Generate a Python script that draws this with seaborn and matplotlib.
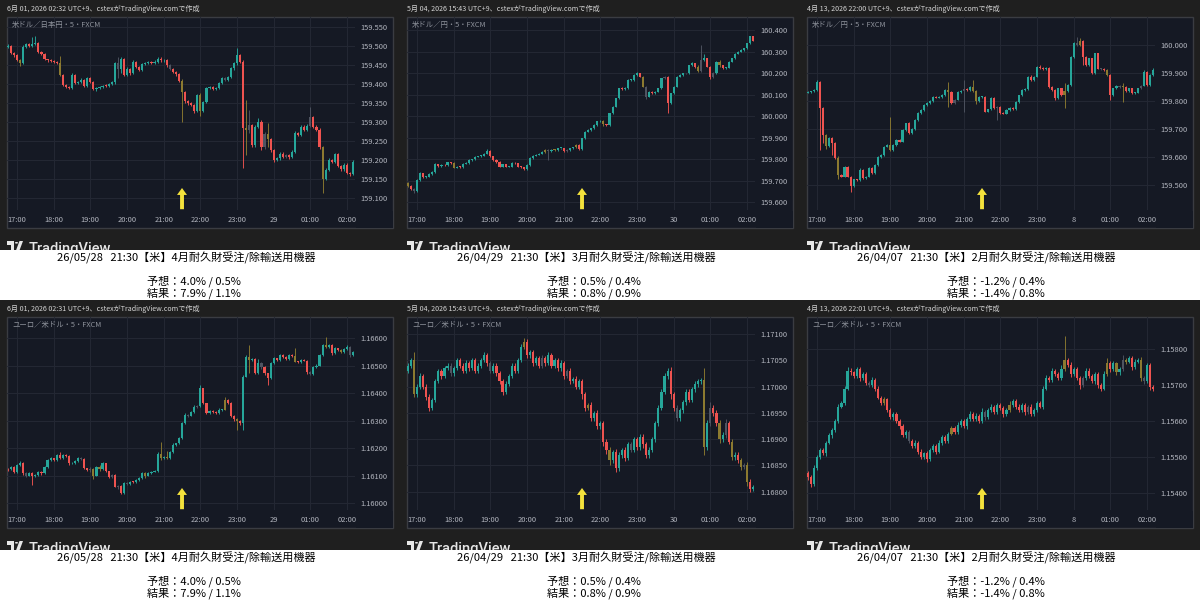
import numpy as np
import matplotlib
matplotlib.use("Agg")
import matplotlib.pyplot as plt
import seaborn as sns
from matplotlib.patches import Rectangle, Polygon, Circle

sns.set_theme(style="dark")
plt.rcParams["font.family"] = ["Noto Sans CJK JP", "DejaVu Sans"]

# ---------------- data ----------------
HEADERS = [
    "6月 01, 2026 02:32 UTC+9、cstexがTradingView.comで作成",
    "5月 04, 2026 15:43 UTC+9、cstexがTradingView.comで作成",
    "4月 13, 2026 22:00 UTC+9、cstexがTradingView.comで作成",
    "6月 01, 2026 02:31 UTC+9、cstexがTradingView.comで作成",
    "5月 04, 2026 15:43 UTC+9、cstexがTradingView.comで作成",
    "4月 13, 2026 22:01 UTC+9、cstexがTradingView.comで作成",
]
SYMBOLS = ["米ドル／日本円・5・FXCM", "米ドル／円・5・FXCM", "米ドル／円・5・FXCM",
           "ユーロ／米ドル・5・FXCM", "ユーロ／米ドル・5・FXCM", "ユーロ／米ドル・5・FXCM"]
DAY_LABELS = ["29", "30", "8"]
HOUR_LABELS = ["17:00", "18:00", "19:00", "20:00", "21:00", "22:00", "23:00", None, "01:00", "02:00"]
EVENTS = ["26/05/28   21:30【米】4月耐久財受注/除輸送用機器",
          "26/04/29   21:30【米】3月耐久財受注/除輸送用機器",
          "26/04/07   21:30【米】2月耐久財受注/除輸送用機器"]
FORECASTS = ["予想：4.0% / 0.5%", "予想：0.5% / 0.4%", "予想：-1.2% / 0.4%"]
RESULTS = ["結果：7.9% / 1.1%", "結果：0.8% / 0.9%", "結果：-1.4% / 0.8%"]
EVENT_HOUR = 4.5  # 21:30, hours after 17:00

# price = BASE + value * UNIT
BASES = [159.0, 159.0, 159.0, 1.16, 1.16, 1.15]
UNITS = [0.001, 0.001, 0.001, 0.00001, 0.00001, 0.00001]
FIRST_OPEN = [497, 690, 830, 125, 1030, 455]

C1 = [500,481,476,463,455,498,505,500,506,507, 485,478,465,462,460,458,455,424,397,392,
      390,424,402,405,410,396,415,405,386,390, 392,396,395,400,404,454,440,466,424,440,
      428,458,445,437,452,456,458,455,459,467, 462,463,449,440,432,425,408,378,355,350,
      345,328,370,330,352,389,392,386,390,402, 415,410,418,441,454,476,459,283,280,292,
      239,288,301,235,268,255,226,200,204,217, 208,212,207,222,270,266,288,280,290,314,
      288,278,235,150,174,200,195,215,184,175, 188,165,163,196]
UW1 = [4,3,3,2,3,5,4,3,18,19, 3,2,3,2,3,2,3,19,3,2, 3,4,3,3,5,3,4,3,2,3, 3,2,3,3,4,3,17,4,3,5,
       3,4,3,3,4,3,3,2,4,5, 3,3,2,4,3,3,4,5,3,2, 3,3,4,5,3,4,3,3,3,4, 3,4,3,4,5,18,3,5,75,39,
       3,4,9,3,6,30,3,4,3,4, 3,3,3,4,6,4,4,3,4,26, 3,3,6,3,4,4,3,4,3,3, 3,3,3,5]
LW1 = [3,3,4,3,8,3,3,3,2,3, 3,3,3,4,3,3,3,4,3,3, 4,3,3,3,3,4,3,3,3,4, 3,3,3,3,3,3,25,10,4,3,
       4,3,3,3,3,3,3,3,3,3, 3,3,3,4,3,3,4,77,5,4, 3,5,3,15,4,3,3,3,3,3, 3,3,3,3,3,3,4,105,67,8,
       4,5,4,10,5,20,4,6,3,5, 4,4,4,3,3,4,3,4,3,3, 3,3,5,38,3,3,4,3,3,4, 3,3,5,3]

C2 = [675,660,650,703,734,715,718,730,740,775, 768,772,770,785,780,760,765,762,778,782,
      795,798,810,813,815,825,838,812,795,785, 765,775,765,765,782,780,765,762,752,772,
      805,815,820,825,833,842,835,842,842,850, 850,835,842,850,855,865,845,896,927,935,
      943,958,975,978,962,958,1012,1043,1082,1128, 1125,1130,1168,1168,1190,1198,1183,1137,1090,1113,
      1105,1113,1128,1175,1180,1060,1105,1137,1183,1190, 1198,1198,1235,1245,1230,1210,1260,1268,1230,1183,
      1200,1253,1235,1222,1225,1253,1268,1290,1300,1307, 1315,1338,1370,1350]
UW2 = [5,4,3,4,6,3,3,3,3,8, 3,3,3,3,3,4,3,3,3,3, 3,3,3,3,3,3,7,3,3,3, 4,3,3,3,3,3,3,3,3,3,
       4,4,3,3,3,3,3,3,5,3, 3,3,3,3,3,6,3,3,3,4, 3,3,3,3,3,3,3,3,3,3, 5,3,3,3,5,9,3,3,3,3,
       4,3,3,3,8,5,3,3,3,4, 3,4,3,5,3,8,70,22,3,3, 3,3,6,3,3,3,3,3,3,3, 3,3,3,4]
LW2 = [5,5,8,3,3,3,4,3,3,3, 3,3,3,3,3,3,3,3,3,3, 3,3,3,3,3,3,3,3,3,3, 3,3,3,3,3,3,3,3,3,3,
       3,3,3,3,3,3,40,3,5,3, 3,3,3,3,3,3,3,3,3,3, 3,3,3,3,8,5,3,3,3,3, 3,3,3,3,3,3,3,3,12,3,
       3,3,3,3,3,48,3,3,3,3, 3,3,3,3,5,6,3,3,3,10, 8,3,5,3,3,3,3,3,3,3, 3,3,3,3]

C3 = [832,834,840,868,774,680,640,667,650,595, 535,530,565,530,495,520,518,555,525,530,
      560,542,572,601,607,637,643,625,643,660, 655,697,720,685,700,732,756,768,786,794,
      800,815,812,815,822,840,832,792,805,833, 835,843,840,850,834,800,815,815,762,770,
      810,775,780,757,755,768,775,772,797,820, 840,842,887,875,887,922,918,915,917,851,
      840,810,845,822,835,858,958,1006,1000,1015, 958,928,952,900,970,916,915,910,893,822,
      845,855,850,850,836,845,828,830,845,855, 905,857,893,910]
UW3 = [4,3,3,6,3,5,3,4,3,3, 10,3,4,3,3,3,3,4,3,3, 3,3,3,3,3,3,3,100,3,3, 3,3,3,4,3,3,3,3,3,3,
       3,3,4,3,3,3,29,3,3,3, 3,32,3,3,25,5,3,3,3,3, 3,3,3,3,3,3,3,3,3,3, 3,3,3,5,3,3,6,4,3,3,
       3,3,3,3,28,3,3,3,24,10, 3,3,3,3,3,3,3,3,3,3, 3,3,3,13,3,3,3,3,3,3, 4,3,3,8]
LW3 = [3,3,3,3,149,30,12,3,43,3, 15,3,3,3,19,3,3,3,3,3, 3,3,3,3,3,3,3,3,3,3, 3,3,3,3,3,3,3,3,3,3,
       3,3,3,3,3,3,52,3,3,3, 3,73,3,3,3,10,3,3,3,3, 3,3,43,3,3,3,3,3,3,3, 3,3,3,3,3,3,3,3,3,3,
       3,6,3,3,48,3,3,3,3,3, 30,3,3,3,3,3,3,3,3,18, 3,3,3,52,3,3,3,3,3,3, 3,3,3,3]

C4 = [122,130,113,138,145,108,100,108,97,102, 114,108,132,156,162,155,174,162,174,172,
      144,145,152,162,160,126,120,125,100,132, 122,144,115,96,102,60,62,35,72,70,
      78,77,83,90,108,100,108,114,117,180, 162,168,163,186,211,217,235,290,320,318,
      332,350,352,417,362,326,335,332,326,338, 340,374,365,315,305,300,290,460,532,520,
      522,471,508,495,471,453,508,526,520,538, 530,522,538,535,514,513,520,518,478,470,
      495,500,538,574,568,575,544,562,555,550, 560,568,540,548]
UW4 = [4,3,3,4,6,3,3,3,3,3, 3,3,4,5,5,3,6,13,4,3, 3,3,4,4,4,3,3,6,3,4, 6,4,3,3,3,3,5,3,4,3,
       3,3,4,3,4,3,3,3,3,4, 43,3,20,4,6,3,5,6,8,3, 4,5,3,12,3,3,4,3,4,6, 3,10,3,3,4,3,3,5,5,42,
       4,5,15,3,3,3,4,4,3,3, 4,3,4,3,30,3,4,3,3,3, 3,4,3,6,30,4,3,4,3,6, 3,5,3,4]
LW4 = [4,3,4,3,3,5,6,3,32,3, 3,5,3,3,3,4,3,3,3,3, 4,3,3,3,3,4,3,6,12,3, 4,3,3,4,5,3,8,4,3,4,
       3,3,3,3,3,8,3,3,3,3, 4,3,3,3,3,3,3,3,3,5, 3,3,3,3,3,4,3,3,3,3, 3,3,4,3,6,35,6,25,3,49,
       3,3,3,8,4,24,3,3,3,4, 3,3,3,3,3,4,3,3,8,5, 3,3,3,3,3,3,4,3,3,5, 3,3,8,5]

C5 = [1040,1050,985,1000,1020,1000,980,960,975,1010, 1030,1020,1035,1040,1025,1035,1050,1040,1030,1045,
      1035,1050,1030,1040,1050,1060,1045,1030,1040,1025, 1010,990,1005,1020,1040,1030,1050,1075,1085,1060,
      1065,1045,1055,1040,1055,1045,1060,1040,1050,1035, 1045,1020,1030,1010,1015,1000,1010,985,960,965,
      940,950,925,930,895,880,860,875,845,870, 880,865,890,880,900,885,905,890,870,880,
      900,930,960,990,1020,1030,985,960,940,955, 970,990,975,995,1005,1010,1012,885,931,960,
      950,931,900,908,930,895,866,870,860,848, 850,819,805,809]
UW5 = [5,4,15,4,5,4,4,5,4,5, 4,4,5,4,4,4,5,4,4,5, 4,5,4,4,5,5,4,4,5,4, 4,4,5,4,5,4,5,6,7,5,
       4,5,4,4,5,4,5,4,4,4, 5,4,4,5,4,5,4,5,5,4, 5,4,5,4,5,5,6,4,6,5, 4,5,4,5,4,5,4,5,4,5,
       5,5,5,5,6,6,8,5,5,5, 5,5,5,5,5,5,5,23,5,10, 5,5,6,5,8,5,5,5,5,5, 5,6,5,4]
LW5 = [5,4,5,5,4,5,5,6,5,4, 4,5,4,4,5,4,4,5,4,4, 5,4,5,4,4,4,5,4,4,5, 5,6,4,4,4,5,4,4,4,6,
       5,5,4,5,4,5,4,5,4,5, 5,5,4,5,4,5,4,8,6,5, 6,5,6,5,8,8,10,5,8,5, 5,6,5,5,5,5,5,6,5,5,
       5,5,5,5,5,5,8,6,5,5, 5,5,5,5,5,5,5,15,6,5, 5,5,8,5,5,5,5,5,5,6, 5,8,5,4]

C6 = [445,425,470,500,520,510,540,560,575,600, 640,650,690,740,735,725,745,720,730,705,
      700,715,690,665,650,660,630,610,620,600, 585,560,570,545,530,540,515,500,510,495,
      520,530,515,540,555,545,565,580,570,590, 600,585,605,620,605,615,600,625,610,630,
      640,625,645,635,620,630,645,655,640,630, 645,625,640,620,630,650,640,690,720,715,
      740,730,720,745,770,755,730,745,720,700, 720,740,725,710,730,700,690,730,762,745,
      760,735,745,770,765,775,750,765,770,720, 710,755,695,690]
UW6 = [6,5,8,6,5,6,5,6,5,6, 6,5,6,10,6,5,6,5,6,5, 5,6,5,6,5,6,5,6,5,6, 5,6,5,6,5,6,5,6,5,6,
       5,6,5,6,5,6,5,6,5,6, 6,5,6,8,5,6,5,12,5,6, 6,5,6,5,6,5,10,6,5,6, 5,6,5,6,5,6,5,6,8,6,
       6,5,6,10,66,6,8,6,5,6, 6,8,6,5,6,5,6,8,12,6, 8,5,6,12,6,6,5,6,6,8, 6,5,6,5]
LW6 = [10,8,6,5,6,5,6,5,6,5, 6,5,6,5,6,5,6,8,6,5, 6,5,6,5,6,5,6,5,6,5, 6,5,6,5,6,5,8,6,5,8,
       6,5,6,5,6,5,6,5,6,5, 6,5,6,5,6,5,6,5,6,5, 6,5,6,5,8,5,6,5,6,5, 6,8,5,6,5,6,5,6,5,6,
       6,5,6,5,6,5,8,6,5,10, 6,5,6,5,6,8,6,5,6,8, 6,8,6,5,6,5,8,6,5,8, 6,5,8,6]

CLOSES = [C1, C2, C3, C4, C5, C6]
UPPER_WICKS = [UW1, UW2, UW3, UW4, UW5, UW6]
LOWER_WICKS = [LW1, LW2, LW3, LW4, LW5, LW6]

# candles that the reference shows in muted gray / olive-gold
GRAY_BARS = [[36, 53, 71, 79, 84, 91, 99],
             [2, 46, 52, 78, 84, 91, 96, 100],
             [48, 51, 62, 88, 96, 102, 109],
             [6, 24, 27, 34, 36, 39, 59, 62, 83, 99, 112],
             [14, 27, 44, 52, 73, 88, 99, 104, 110],
             [20, 33, 58, 72, 90, 103, 110]]
GOLD_BARS = [[4, 17, 57, 63, 78, 85, 103],
             [0, 15, 45, 48, 55, 64, 77, 95, 102],
             [6, 10, 27, 46, 54, 55, 84, 89, 98, 103],
             [28, 30, 45, 50, 52, 71, 75, 79, 94, 104, 109],
             [2, 38, 59, 66, 97, 102, 106, 109, 111],
             [25, 47, 66, 84, 98, 101, 104, 109]]

PRICE_TICKS = [
    [159.10, 159.15, 159.20, 159.25, 159.30, 159.35, 159.40, 159.45, 159.50, 159.55],
    [159.6, 159.7, 159.8, 159.9, 160.0, 160.1, 160.2, 160.3, 160.4],
    [159.5, 159.6, 159.7, 159.8, 159.9, 160.0],
    [1.160, 1.161, 1.162, 1.163, 1.164, 1.165, 1.166],
    [1.1680, 1.1685, 1.1690, 1.1695, 1.1700, 1.1705, 1.1710],
    [1.154, 1.155, 1.156, 1.157, 1.158],
]
DECIMALS = [3, 3, 3, 5, 5, 5]
YLIMS = [(159.0684, 159.5763), (159.5628, 160.4605), (159.4107, 160.1000),
         (1.159746, 1.166764), (1.167654, 1.171323), (1.153528, 1.158889)]

# ---------------- style ----------------
W, H = 1200, 600
OUTER = "#1f1f1f"
CHART_BG = "#151924"
FRAME = "#3a3c42"
GRID = "#232733"
UP, DN = "#26a69a", "#ef5350"
GRAY_C, GOLD_C = "#4f5461", "#8c7a30"
TXT = "#b2b5be"
ARROW = "#f4e23c"

fig = plt.figure(figsize=(12, 6), dpi=100, facecolor="white")


def fx(x):
    return x / W


def fy(y):
    return 1 - y / H


def rect(x0, y0, x1, y1, **kw):
    fig.add_artist(Rectangle((fx(x0), fy(y1)), (x1 - x0) / W, (y1 - y0) / H,
                             transform=fig.transFigure, **kw))


x_left, x_right = (7 - 17) / 36.67, (355 - 17) / 36.67

for k in range(6):
    r, c = divmod(k, 3)
    ox, oy = 400 * c, 300 * r

    rect(ox, oy, ox + 400, oy + 250, facecolor=OUTER, edgecolor="none", zorder=-3)
    rect(ox + 7, oy + 17, ox + 393, oy + 228, facecolor=CHART_BG, edgecolor=FRAME,
         linewidth=1, zorder=-2)

    ax = fig.add_axes([fx(ox + 7), fy(oy + 210), 348 / W, 193 / H])
    ax.set_facecolor("none")
    for s in ax.spines.values():
        s.set_visible(False)

    closes = np.asarray(CLOSES[k], float)
    opens = np.r_[FIRST_OPEN[k], closes[:-1]]
    base, unit = BASES[k], UNITS[k]
    cl = base + closes * unit
    op = base + opens * unit
    hi = np.maximum(op, cl) + np.asarray(UPPER_WICKS[k]) * unit
    lo = np.minimum(op, cl) - np.asarray(LOWER_WICKS[k]) * unit
    xs = (np.arange(len(closes)) * 5 - 15) / 60.0
    cols = np.where(cl >= op, UP, DN).astype(object)
    cols[GRAY_BARS[k]] = GRAY_C
    cols[GOLD_BARS[k]] = GOLD_C

    y0, y1 = YLIMS[k]
    ax.set_xlim(x_left, x_right)
    ax.set_ylim(y0, y1)

    # grid
    for h in range(10):
        ax.axvline(h, color=GRID, lw=0.8, zorder=0)
    for t in PRICE_TICKS[k]:
        ax.axhline(t, color=GRID, lw=0.8, zorder=0)

    ax.vlines(xs, lo, hi, colors=list(cols), lw=0.65, zorder=2)
    minh = (y1 - y0) / 193 * 0.8
    ax.bar(xs, np.maximum(np.abs(cl - op), minh), bottom=np.minimum(op, cl),
           width=0.058, color=list(cols), linewidth=0, zorder=3)

    # event arrow
    ax.annotate("", xy=(EVENT_HOUR, (210 - 188) / 193), xytext=(EVENT_HOUR, 0.004),
                xycoords=("data", "axes fraction"), textcoords=("data", "axes fraction"),
                arrowprops=dict(arrowstyle="simple,head_length=0.5,head_width=0.72,tail_width=0.28",
                                color=ARROW, lw=0, shrinkA=0, shrinkB=0, mutation_scale=10),
                zorder=5)

    # axes ticks
    ax.yaxis.tick_right()
    ax.set_yticks(PRICE_TICKS[k])
    ax.set_yticklabels([f"{t:.{DECIMALS[k]}f}" for t in PRICE_TICKS[k]])
    labels = [DAY_LABELS[c] if l is None else l for l in HOUR_LABELS]
    ax.set_xticks(range(10))
    ax.set_xticklabels(labels)
    ax.tick_params(axis="y", length=0, pad=3.8, labelsize=5.4, labelcolor=TXT)
    ax.tick_params(axis="x", length=0, pad=4.2, labelsize=5.4, labelcolor=TXT)
    ax.grid(False)

    # hide the time-label overflow beside the price scale
    rect(ox + 355.5, oy + 210.5, ox + 392.5, oy + 227.5, facecolor=CHART_BG,
         edgecolor="none", zorder=1)

    fig.text(fx(ox + 7), fy(oy + 9), HEADERS[k], fontsize=5.1, color="#d6d6d6",
             ha="left", va="center")
    fig.text(fx(ox + 12), fy(oy + 25), SYMBOLS[k], fontsize=5.3, color="#8f939c",
             ha="left", va="center")

    # TradingView logo (cut off by the white band, as in the screenshot)
    lc = "#e6e6e6"
    pts = [(7, 241), (14, 241), (14, 253), (10.5, 253), (10.5, 244.5), (7, 244.5)]
    fig.add_artist(Polygon([(fx(ox + p), fy(oy + q)) for p, q in pts],
                           closed=True, transform=fig.transFigure, facecolor=lc,
                           edgecolor="none", zorder=3))
    fig.add_artist(Circle((fx(ox + 16.5), fy(oy + 242.8)), 1.6 / W, transform=fig.transFigure,
                          facecolor=lc, edgecolor="none", zorder=3))
    pts2 = [(19.5, 241), (23, 241), (18.5, 253), (15, 253)]
    fig.add_artist(Polygon([(fx(ox + p), fy(oy + q)) for p, q in pts2], closed=True,
                           transform=fig.transFigure, facecolor=lc, edgecolor="none", zorder=3))
    logo = fig.text(fx(ox + 28.5), fy(oy + 253), "TradingView", fontsize=10.5, color=lc,
                    family=["Roboto"], fontweight="medium", ha="left", va="baseline", zorder=3)
    logo.set_clip_box(Rectangle((fx(ox), fy(oy + 250)), 400 / W, 20 / H,
                                transform=fig.transFigure).get_window_extent())

    # white band with event text
    rect(ox, oy + 250, ox + 400, oy + 300, facecolor="white", edgecolor="none", zorder=4)
    fig.text(fx(ox + 57), fy(oy + 257.5), EVENTS[c], fontsize=8, color="black",
             ha="left", va="center", zorder=6)
    fig.text(fx(ox + 147), fy(oy + 281), FORECASTS[c], fontsize=8, color="black",
             ha="left", va="center", zorder=6)
    fig.text(fx(ox + 147), fy(oy + 293.5), RESULTS[c], fontsize=8, color="black",
             ha="left", va="center", zorder=6)

fig.savefig("out.png", dpi=100, facecolor="white")
